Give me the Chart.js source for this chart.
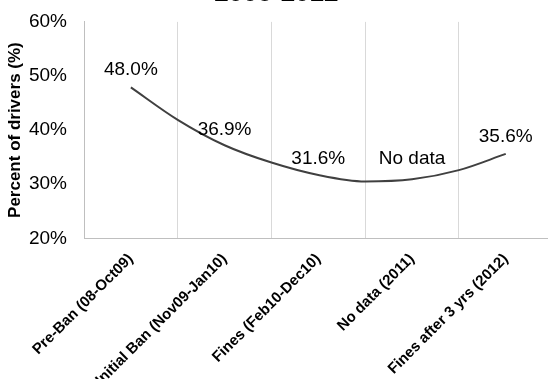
<!DOCTYPE html>
<html>
<head>
<meta charset="utf-8">
<script src="https://cdn.jsdelivr.net/npm/chart.js@4"></script>
<style>
  html, body { margin: 0; padding: 0; background: #fff; overflow: hidden; width: 548px; height: 379px; }
  #wrap { position: absolute; left: 0; top: -30px; width: 560px; height: 409px; }
</style>
</head>
<body>
<div id="wrap"><canvas id="chart"></canvas></div>
<script>
const periods = [
  "Pre-Ban (08-Oct09)",
  "Initial Ban (Nov09-Jan10)",
  "Fines (Feb10-Dec10)",
  "No data (2011)",
  "Fines after 3 yrs (2012)",
];
const driverPct = [48.0, 36.9, 31.6, null, 35.6];
const pointLabels = ["48.0%", "36.9%", "31.6%", "No data", "35.6%"];

const trendPos = [1, 1.5, 2, 2.5, 3, 3.5, 4, 4.5, 5];
const trendPct = [47.9, 41.9, 37.2, 34.0, 31.7, 30.5, 30.9, 32.6, 35.6];

const yTicks = [20, 30, 40, 50, 60];

Chart.defaults.font.family = "'Liberation Sans', Arial, sans-serif";
Chart.defaults.color = "#000";

// value labels above each period; "No data" sits at the level of the last reading
const pointLabelPlugin = {
  id: "pointLabels",
  afterDatasetsDraw(chart) {
    const { ctx, scales } = chart;
    ctx.save();
    ctx.font = "19px 'Liberation Sans', Arial, sans-serif";
    ctx.fillStyle = "#000";
    ctx.textAlign = "center";
    ctx.textBaseline = "alphabetic";
    let last = null;
    pointLabels.forEach((txt, i) => {
      const v = driverPct[i] ?? last;
      last = v;
      ctx.fillText(txt, scales.x.getPixelForValue(i), scales.y.getPixelForValue(v) - 12);
    });
    ctx.restore();
  },
};

const ctx = document.getElementById("chart").getContext("2d");

new Chart(ctx, {
  type: "line",
  data: {
    labels: periods,
    datasets: [
      {
        label: "Trend",
        xAxisID: "xTrend",
        data: trendPos.map((x, i) => ({ x, y: trendPct[i] })),
        borderColor: "#404040",
        borderWidth: 2,
        pointRadius: 0,
        cubicInterpolationMode: "monotone",
      },
      {
        label: "Percent of drivers",
        xAxisID: "x",
        data: driverPct,
        showLine: false,
        pointRadius: 0,
      },
    ],
  },
  options: {
    responsive: true,
    maintainAspectRatio: false,
    animation: false,
    layout: { padding: { left: 0, right: 7.4, top: 0, bottom: 0 } },
    plugins: {
      legend: { display: false },
      tooltip: { enabled: false },
      title: {
        display: true,
        text: "2008-2012",
        color: "#000",
        font: { size: 26, weight: "bold" },
        padding: { top: 7.8, bottom: 12.9 },
      },
    },
    scales: {
      x: {
        type: "category",
        offset: true,
        grid: { display: true, offset: true, color: "#d9d9d9", drawTicks: false },
        border: { display: true, color: "#bfbfbf" },
        ticks: {
          font: { size: 15, weight: "bold" },
          color: "#000",
          minRotation: 45,
          maxRotation: 45,
          padding: 12,
        },
        afterFit: (s) => { s.height = 140.7; },
      },
      xTrend: {
        type: "linear",
        display: false,
        min: 0.5,
        max: 5.5,
      },
      y: {
        min: 20,
        max: 60,
        grid: { display: false, drawTicks: false },
        border: { display: true, color: "#bfbfbf" },
        afterBuildTicks: (s) => { s.ticks = yTicks.map((v) => ({ value: v })); },
        ticks: {
          font: { size: 19 },
          color: "#000",
          padding: 17,
          callback: (v) => v + "%",
        },
        title: {
          display: true,
          text: "Percent of drivers (%)",
          color: "#000",
          font: { size: 17, weight: "bold" },
          padding: { top: 5, bottom: 0 },
        },
        afterFit: (s) => { s.width = 84; },
      },
    },
  },
  plugins: [pointLabelPlugin],
});
</script>
</body>
</html>
